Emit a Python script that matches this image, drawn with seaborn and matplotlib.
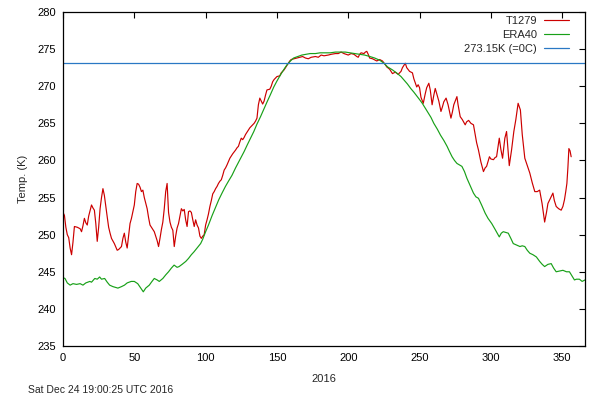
import matplotlib
matplotlib.use("Agg")
import matplotlib.pyplot as plt
import seaborn as sns
import pandas as pd

# T1279 daily mean temperature north of 80N
t1279_day = [0, 1, 2, 3, 4, 5, 6, 7, 8, 10, 12, 13, 14, 15, 16, 17, 18, 20, 21, 22, 23, 24, 25, 26, 27, 28, 29, 30,
             31, 32, 33, 34, 36, 38, 39, 41, 42, 43, 44, 45, 46, 47, 48, 50, 51, 52, 53, 54, 55, 56, 57, 59, 60, 61,
             62, 64, 65, 66, 67, 68, 69, 70, 71, 72, 73, 74, 75, 76, 77, 78, 79, 80, 81, 82, 83, 84, 85, 86, 87, 88,
             89, 90, 91, 92, 93, 94, 95, 96, 97, 98, 99, 100, 101, 102, 103, 104, 105, 106, 107, 108, 109, 110, 111,
             112, 113, 114, 115, 117, 119, 121, 122, 123, 124, 125, 126, 127, 128, 129, 130, 131, 132, 134, 135, 136,
             137, 138, 139, 140, 141, 142, 143, 145, 146, 147, 148, 150, 152, 153, 155, 156, 158, 159, 160, 162, 164,
             166, 168, 170, 172, 174, 177, 179, 181, 183, 186, 188, 191, 193, 195, 197, 200, 202, 204, 206, 207, 208,
             209, 211, 212, 213, 214, 215, 217, 220, 222, 224, 226, 227, 229, 231, 233, 235, 237, 238, 240, 241, 243,
             245, 246, 248, 249, 250, 251, 252.6, 254, 255, 256.5, 257.5, 258.8, 260, 261, 262, 263.5, 265, 266, 267,
             268.6, 270, 272, 273, 274, 276.2, 277, 278.5, 280, 282, 283, 284.4, 286, 287.8, 289, 290, 291.3, 293,
             294.8, 296, 297, 299, 300, 301.8, 303, 304, 305.9, 307, 308.2, 309.8, 311, 312, 312.9, 314.5, 316.1,
             317.5, 319.1, 320.7, 322, 323.8, 325, 327.3, 329, 330.8, 332.5, 334.2, 335.9, 337.7, 339, 340, 342,
             343.5, 344.5, 345.8, 347.5, 349.3, 350.5, 351.6, 352.5, 353.3, 354, 354.7, 355.5, 356.3]
t1279_temp = [253.0, 252.6, 251.0, 250.0, 249.6, 248.2, 247.3, 249.0, 251.1, 251.0, 250.8, 250.4, 251.2, 252.2, 251.6,
              251.3, 252.5, 254.0, 253.6, 253.3, 251.5, 249.1, 251.0, 253.5, 255.0, 256.2, 255.3, 253.8, 252.4, 251.0,
              250.2, 249.5, 248.8, 247.9, 248.0, 248.4, 249.5, 250.2, 249.0, 248.2, 249.8, 251.5, 252.2, 254.0, 255.8,
              256.9, 256.8, 256.4, 255.8, 256.0, 255.0, 253.5, 252.3, 251.3, 251.0, 250.4, 249.8, 249.2, 248.4, 249.5,
              250.7, 251.7, 253.5, 255.8, 256.9, 253.0, 251.7, 251.0, 250.6, 248.4, 249.8, 250.9, 251.5, 252.5, 253.5,
              253.2, 253.4, 252.0, 251.1, 253.1, 253.2, 253.0, 252.0, 251.1, 252.0, 251.3, 250.9, 249.8, 249.5, 249.8,
              250.0, 251.3, 252.0, 252.8, 253.8, 254.6, 255.5, 255.8, 256.2, 256.5, 256.9, 257.2, 257.4, 258.0, 258.7,
              259.0, 259.4, 260.3, 260.9, 261.4, 261.7, 261.9, 262.5, 263.0, 262.8, 263.1, 263.5, 263.8, 264.1, 264.4,
              264.6, 265.0, 265.3, 265.7, 267.5, 268.4, 268.0, 267.6, 268.0, 268.8, 269.5, 269.6, 270.0, 270.6, 270.9,
              271.3, 271.4, 271.8, 272.2, 272.5, 273.1, 273.4, 273.6, 273.7, 273.8, 273.9, 274.0, 273.8, 273.7, 273.9,
              274.0, 273.9, 274.2, 274.1, 274.2, 274.3, 274.4, 274.4, 274.6, 274.4, 274.2, 274.4, 274.3, 274.0, 273.9,
              274.3, 274.5, 274.4, 274.6, 274.7, 274.3, 273.8, 273.7, 273.4, 273.6, 273.4, 272.9, 272.6, 272.3, 271.7,
              271.9, 271.6, 272.0, 272.5, 273.1, 272.5, 272.0, 271.8, 271.0, 269.9, 270.2, 269.8, 268.5, 267.7, 269.0,
              269.8, 270.4, 269.5, 267.5, 268.8, 269.7, 269.0, 268.0, 266.6, 267.2, 267.9, 268.4, 267.5, 265.7, 266.5,
              267.5, 268.6, 267.5, 265.9, 265.5, 264.8, 265.2, 265.4, 265.0, 264.8, 263.5, 262.4, 261.4, 259.8, 258.5,
              259.0, 259.2, 260.5, 260.2, 260.1, 260.4, 260.5, 263.0, 261.5, 260.3, 263.0, 263.9, 261.5, 259.3, 261.4,
              263.9, 265.5, 267.7, 266.8, 263.5, 260.3, 259.6, 258.3, 257.0, 255.8, 255.8, 256.0, 254.2, 251.7, 253.0,
              254.2, 255.0, 255.6, 254.6, 253.8, 253.5, 253.3, 253.8, 254.7, 255.8, 256.9, 259.0, 261.6, 261.3, 260.5]

# ERA40 climatology
era40_day = [0, 1.4, 3, 5, 7, 9.5, 12, 14, 16, 18.8, 20, 22.3, 24, 25.7, 27, 29.2, 31, 32.7, 35, 38.5, 41, 43.1, 45,
             47.8, 50, 52.4, 54.5, 56.3, 58, 60.5, 62, 64, 66, 67.5, 70, 72.1, 74, 76, 77.9, 80, 81.4, 83.5, 86.1, 88,
             90, 91.9, 94, 96.5, 98, 100, 102, 104.6, 107, 109.2, 111.5, 113.9, 116, 118.5, 121, 124.5, 127, 129.2,
             131.5, 133.8, 136, 138.5, 141, 143.1, 145.5, 147.8, 150, 152.4, 155, 157.1, 159.5, 161.7, 164.5, 167.5,
             170.5, 173.3, 177, 180.3, 184, 187.3, 191, 194.2, 198, 201.2, 204.5, 208.2, 211.5, 215.2, 218.5, 222.1,
             225, 227.6, 231, 234.5, 237, 239.2, 241.5, 243.8, 246, 248.4, 250, 251.9, 253.5, 255.4, 258, 260, 262.5,
             264.7, 267, 269.3, 271, 272.8, 274.5, 276.2, 278, 279.7, 281.5, 283.2, 285.5, 287.8, 289.5, 291.3, 293.5,
             296, 298, 300.6, 303, 305.9, 307.3, 308.7, 310.5, 312.2, 314, 315.7, 318, 320.4, 322, 323.8, 325.5, 327.3,
             329.5, 331.9, 334.2, 336, 337.7, 340, 342.3, 344, 345.8, 348, 350.5, 353, 355.1, 357, 358.6, 360, 362.1,
             364, 366]
era40_temp = [244.2, 244.1, 243.5, 243.2, 243.4, 243.3, 243.4, 243.2, 243.5, 243.7, 243.6, 244.1, 244.0, 244.3, 244.0,
              244.1, 243.6, 243.2, 243.0, 242.8, 243.0, 243.2, 243.5, 243.7, 243.7, 243.4, 242.8, 242.3, 242.8, 243.2,
              243.6, 244.1, 243.9, 243.7, 244.1, 244.6, 245.0, 245.5, 245.9, 245.6, 245.7, 246.0, 246.4, 246.8, 247.3,
              247.7, 248.2, 248.8, 249.4, 250.4, 251.3, 252.6, 253.7, 254.7, 255.6, 256.5, 257.2, 258.0, 259.0, 260.3,
              261.2, 262.1, 263.0, 263.9, 264.9, 265.9, 267.0, 267.9, 268.9, 269.9, 270.7, 271.5, 272.3, 272.9, 273.4,
              273.8, 274.0, 274.2, 274.3, 274.4, 274.4, 274.5, 274.5, 274.5, 274.6, 274.6, 274.6, 274.5, 274.4, 274.3,
              274.2, 274.0, 273.8, 273.5, 273.1, 272.6, 272.2, 271.7, 271.3, 270.8, 270.3, 269.7, 269.2, 268.6, 268.2,
              267.7, 267.2, 266.6, 265.8, 265.0, 264.2, 263.4, 262.7, 261.9, 261.2, 260.5, 260.0, 259.6, 259.4, 259.2,
              258.5, 257.6, 256.6, 255.6, 255.1, 254.9, 254.0, 252.9, 252.2, 251.5, 250.7, 249.7, 250.2, 250.4, 250.3,
              250.2, 249.5, 248.8, 248.6, 248.4, 248.5, 248.4, 247.9, 247.5, 247.3, 247.0, 246.4, 246.0, 245.7, 246.0,
              246.1, 245.5, 245.0, 245.1, 245.2, 245.0, 245.0, 244.4, 243.9, 244.0, 244.0, 243.7, 243.9]

freeze_k = 273.15
x_ticks = [0, 50, 100, 150, 200, 250, 300, 350]
y_ticks = [235, 240, 245, 250, 255, 260, 265, 270, 275, 280]

sns.set_style("white")
plt.rcParams["font.family"] = ["Liberation Sans", "DejaVu Sans"]

fig = plt.figure(figsize=(6, 4), dpi=100)
ax = fig.add_axes([63 / 600, 1 - 346 / 400, (585 - 63) / 600, (346 - 12) / 400])

df_t = pd.DataFrame({"day": t1279_day, "temp": t1279_temp})
df_e = pd.DataFrame({"day": era40_day, "temp": era40_temp})

sns.lineplot(data=df_t, x="day", y="temp", ax=ax, color="#cc0000", lw=0.85,
             label="T1279", estimator=None, sort=False)
sns.lineplot(data=df_e, x="day", y="temp", ax=ax, color="#18a018", lw=0.85,
             label="ERA40", estimator=None, sort=False)
ax.axhline(freeze_k, color="#2a78c4", lw=0.9, label="273.15K (=0C)")

ax.set_xlim(0, 366)
ax.set_ylim(235, 280)
ax.set_xticks(x_ticks)
ax.set_yticks(y_ticks)
ax.tick_params(direction="in", top=True, right=True, length=4, width=0.8,
               labelsize=8, colors="black", pad=5)
for s in ax.spines.values():
    s.set_visible(True)
    s.set_color("black")
    s.set_linewidth(0.9)

ax.set_xlabel("2016", fontsize=8, labelpad=8)
ax.set_ylabel("Temp. (K)", fontsize=8, labelpad=7)

leg = ax.legend(loc="upper right", frameon=False, markerfirst=False, fontsize=8,
                handlelength=2.3, handletextpad=0.6, labelspacing=0.35,
                bbox_to_anchor=(0.985, 1.012), borderaxespad=0.3)

fig.text(28 / 600, 1 - 390 / 400, "Sat Dec 24 19:00:25 UTC 2016", fontsize=7.5,
         va="center", ha="left")

fig.savefig("out.png", dpi=100, facecolor="white")
